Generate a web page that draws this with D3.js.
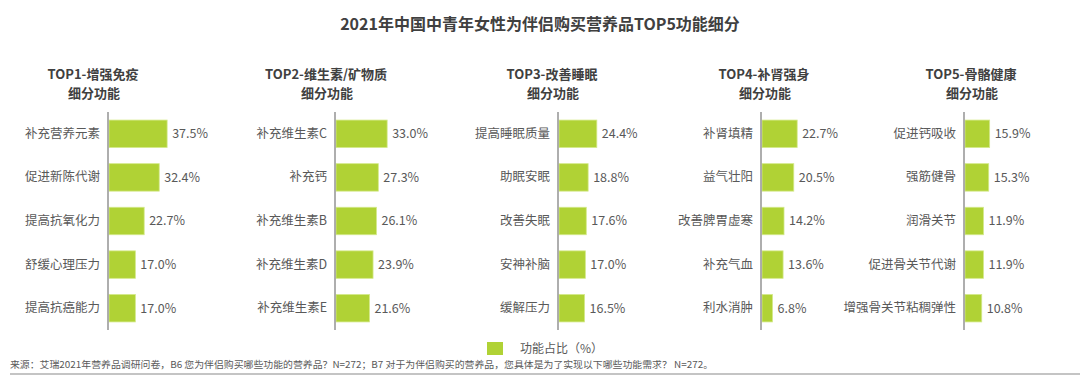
<!DOCTYPE html>
<html><head><meta charset="utf-8">
<script src="https://cdn.jsdelivr.net/npm/d3@7"></script>
<style>
html,body{margin:0;padding:0;background:#fff;}
svg{display:block;font-family:"Noto Sans CJK SC","Noto Sans",sans-serif;}
</style></head>
<body>
<svg id="chart" width="1080" height="379"></svg>
<script>
const chartTitle = "2021年中国中青年女性为伴侣购买营养品TOP5功能细分";
const panelTitles = ["TOP1-增强免疫","TOP2-维生素/矿物质","TOP3-改善睡眠","TOP4-补肾强身","TOP5-骨骼健康"];
const panelSubtitle = "细分功能";
const cats1 = ["补充营养元素","促进新陈代谢","提高抗氧化力","舒缓心理压力","提高抗癌能力"];
const vals1 = [37.5,32.4,22.7,17.0,17.0];
const cats2 = ["补充维生素C","补充钙","补充维生素B","补充维生素D","补充维生素E"];
const vals2 = [33.0,27.3,26.1,23.9,21.6];
const cats3 = ["提高睡眠质量","助眠安眠","改善失眠","安神补脑","缓解压力"];
const vals3 = [24.4,18.8,17.6,17.0,16.5];
const cats4 = ["补肾填精","益气壮阳","改善脾胃虚寒","补充气血","利水消肿"];
const vals4 = [22.7,20.5,14.2,13.6,6.8];
const cats5 = ["促进钙吸收","强筋健骨","润滑关节","促进骨关节代谢","增强骨关节粘稠弹性"];
const vals5 = [15.9,15.3,11.9,11.9,10.8];
const legendLabel = "功能占比（%）";
const sourceText = "来源：艾瑞2021年营养品调研问卷，B6 您为伴侣购买哪些功能的营养品？N=272；B7 对于为伴侣购买的营养品，您具体是为了实现以下哪些功能需求？ N=272。";

const cats = [cats1,cats2,cats3,cats4,cats5];
const vals = [vals1,vals2,vals3,vals4,vals5];

// layout (not data)
const axisX = [108,335,558,761,964];
const titleX = [93,326,552,764,971];
const barColor = "#b0d235";
const textColor = "#595959";
const titleColor = "#404040";

const svg = d3.select("#chart");

svg.append("text").attr("x",540).attr("y",30).attr("text-anchor","middle")
  .attr("font-size",16).attr("font-weight","bold").attr("fill",titleColor).text(chartTitle);

const x = d3.scaleLinear().domain([0,40]).range([0,62]);

for(let p=0;p<5;p++){
  const g = svg.append("g").attr("transform",`translate(${axisX[p]},0)`);
  const y = d3.scaleBand().domain(cats[p]).range([112,330]).paddingInner(0.37).paddingOuter(0.185);
  const data = cats[p].map((c,i)=>({c,v:vals[p][i]}));

  g.selectAll("rect").data(data).join("rect")
    .attr("x",x(0)+1).attr("y",d=>y(d.c)).attr("width",d=>x(d.v)).attr("height",y.bandwidth())
    .attr("fill",barColor).attr("stroke","#d4e98a").attr("stroke-width",0.8);

  const ax = g.append("g").attr("transform","translate(0,0)")
    .call(d3.axisLeft(y).tickSize(0).tickPadding(8));
  ax.select(".domain").attr("d","M0,112V330").attr("stroke","#9a9a9a").attr("stroke-width",1.6);
  ax.selectAll("text").attr("font-size",12.5).attr("fill",textColor)
    .attr("font-family","'Noto Sans CJK SC',sans-serif");

  g.selectAll("text.val").data(data).join("text").attr("class","val")
    .attr("x",d=>x(d.v)+6).attr("y",d=>y(d.c)+y.bandwidth()/2).attr("dy","0.35em")
    .attr("font-size",12.5).attr("fill",textColor).text(d=>d.v.toFixed(1)+"%");

  svg.append("text").attr("x",titleX[p]).attr("y",79).attr("text-anchor","middle")
    .attr("font-size",13).attr("font-weight","bold").attr("fill",titleColor).text(panelTitles[p]);
  svg.append("text").attr("x",titleX[p]+1).attr("y",98).attr("text-anchor","middle")
    .attr("font-size",13).attr("font-weight","bold").attr("fill",titleColor).text(panelSubtitle);
}

// legend
svg.append("rect").attr("x",487).attr("y",342).attr("width",16).attr("height",13).attr("fill",barColor);
svg.append("text").attr("x",520).attr("y",353).attr("font-size",12).attr("fill",textColor).text(legendLabel);

// source
svg.append("text").attr("x",10).attr("y",368).attr("font-size",9.5).attr("fill",textColor)
  .attr("textLength",703).attr("lengthAdjust","spacingAndGlyphs").text(sourceText);
svg.append("line").attr("x1",10).attr("x2",1080).attr("y1",374).attr("y2",374)
  .attr("stroke","#c4c4c4").attr("stroke-width",2);
</script>
</body></html>
